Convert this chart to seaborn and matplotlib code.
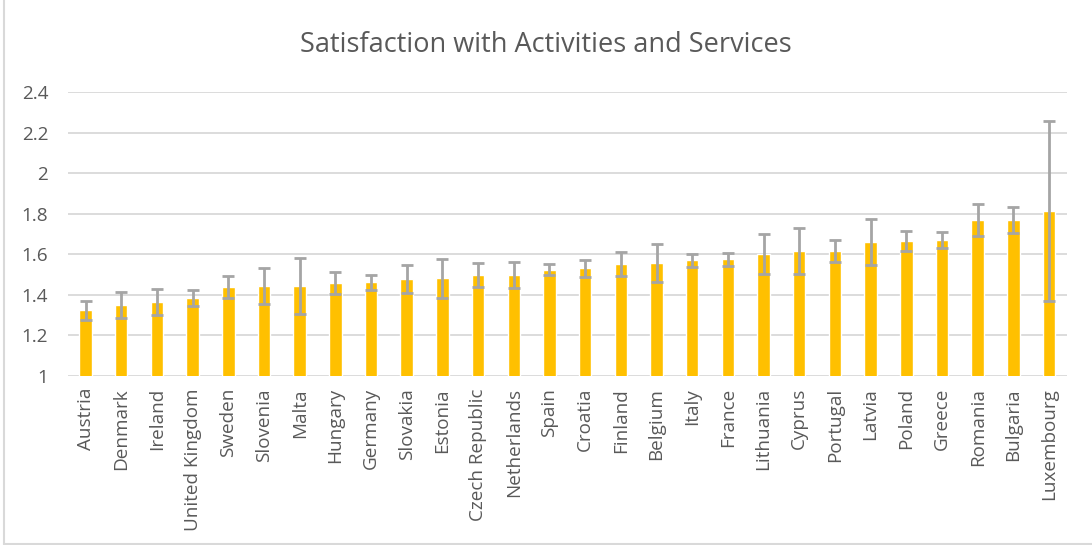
"""Satisfaction with activities and services — bar chart with error bars."""
import matplotlib
matplotlib.use("Agg")
import matplotlib.pyplot as plt
import numpy as np
import pandas as pd
import seaborn as sns
from matplotlib.lines import Line2D
from matplotlib.ticker import FuncFormatter

countries = [
    "Austria", "Denmark", "Ireland", "United Kingdom", "Sweden", "Slovenia",
    "Malta", "Hungary", "Germany", "Slovakia", "Estonia", "Czech Republic",
    "Netherlands", "Spain", "Croatia", "Finland", "Belgium", "Italy", "France",
    "Lithuania", "Cyprus", "Portugal", "Latvia", "Poland", "Greece", "Romania",
    "Bulgaria", "Luxembourg",
]
means = [
    1.322, 1.348, 1.363, 1.382, 1.437, 1.442, 1.442, 1.456, 1.461, 1.476,
    1.481, 1.496, 1.496, 1.522, 1.531, 1.550, 1.555, 1.569, 1.575, 1.601,
    1.615, 1.616, 1.659, 1.664, 1.669, 1.768, 1.768, 1.811,
]
errors = [
    0.047, 0.066, 0.065, 0.040, 0.056, 0.087, 0.140, 0.055, 0.037, 0.070,
    0.096, 0.060, 0.064, 0.027, 0.042, 0.058, 0.094, 0.033, 0.032, 0.099,
    0.115, 0.054, 0.113, 0.050, 0.040, 0.077, 0.062, 0.445,
]
y_ticks = [1, 1.2, 1.4, 1.6, 1.8, 2, 2.2, 2.4]

BAR = "#FFC000"
ERR = "#A5A5A5"
TXT = "#595959"
GRID = "#D9D9D9"

sns.set_theme(style="white")
plt.rcParams["font.family"] = ["Open Sans", "DejaVu Sans"]

df = pd.DataFrame({"country": countries, "mean": means, "err": errors})

fig = plt.figure(figsize=(10.92, 5.45), dpi=100)
ax = fig.add_axes([0.062, 0.311, 0.915, 0.520])

sns.barplot(data=df, x="country", y="mean", color=BAR, width=0.35,
            saturation=1, ax=ax, zorder=3)
ax.errorbar(np.arange(len(df)), df["mean"], yerr=df["err"], fmt="none",
            ecolor=ERR, elinewidth=2, capsize=4, capthick=2, zorder=4)

ax.set_ylim(1, 2.4)
ax.set_xlim(-0.5, len(df) - 0.5)
ax.set_yticks(y_ticks)
ax.yaxis.set_major_formatter(FuncFormatter(lambda v, _: f"{v:g}"))
ax.grid(axis="y", color=GRID, linewidth=1.3, zorder=0)
ax.set_axisbelow(True)
for s in ax.spines.values():
    s.set_visible(False)
ax.tick_params(axis="x", length=0, pad=9, labelsize=13.6, labelcolor=TXT,
               rotation=90)
ax.tick_params(axis="y", length=0, pad=14, labelsize=13.6, labelcolor=TXT)
ax.set_xlabel("")
ax.set_ylabel("")

fig.suptitle("Satisfaction with Activities and Services", y=0.917, va="center",
             fontsize=19.5, color=TXT)

# light frame like the exported chart
fig.add_artist(Line2D([0.004, 0.004], [0.002, 1], transform=fig.transFigure,
                      color=GRID, linewidth=1.5))
fig.add_artist(Line2D([0.004, 1], [0.002, 0.002], transform=fig.transFigure,
                      color=GRID, linewidth=1.5))

fig.savefig("out.png", dpi=100)
